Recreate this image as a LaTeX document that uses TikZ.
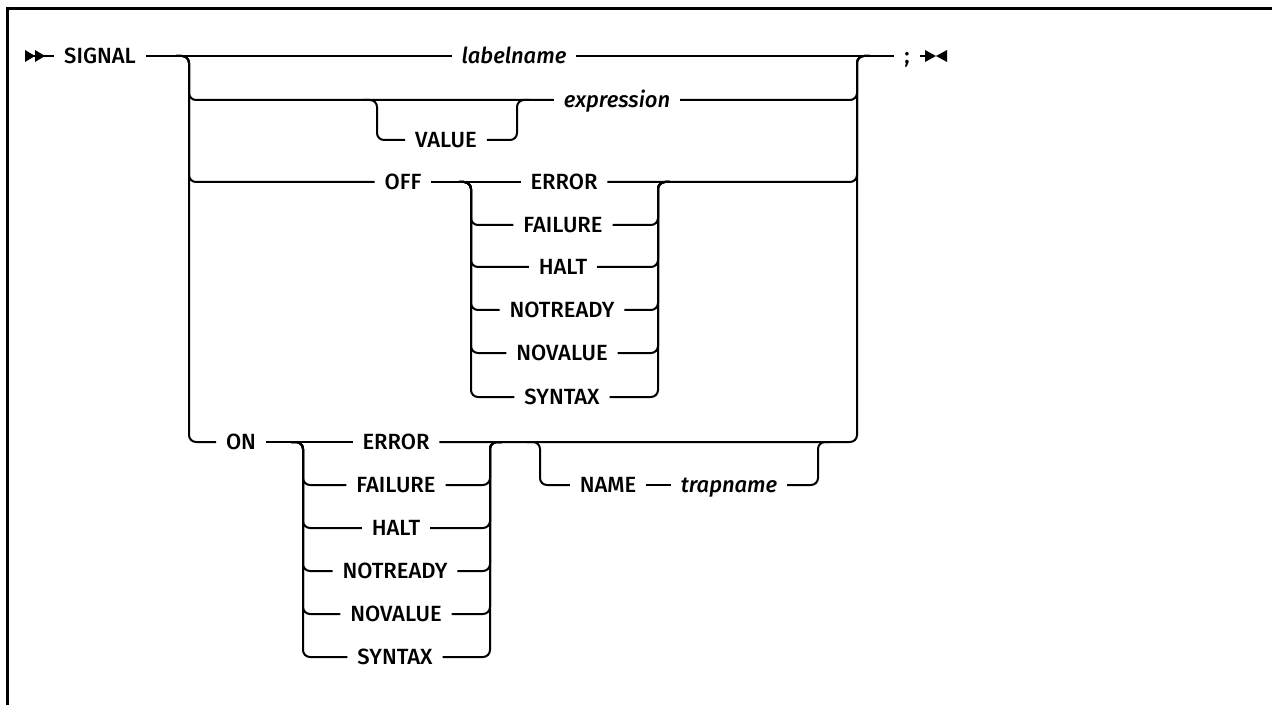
\documentclass[tikz,border=0pt]{standalone}
\usepackage{fontspec}
\setmainfont{Liberation Sans}
\newfontfamily\railfont{Fira Sans Medium}[ItalicFont={Fira Sans Medium Italic}]
\usepackage{tikz}

\begin{document}
\begin{tikzpicture}[x=0.5pt,y=-0.5pt,
	rail/.style={line width=1pt,rounded corners=3.5pt},
	kw/.style={inner xsep=5pt,inner ysep=2pt,outer sep=0pt,text height=7.4pt,text depth=0pt,font=\railfont\fontsize{11}{13}\selectfont},
	var/.style={kw,font=\railfont\fontsize{11}{13}\selectfont\itshape}]
	\useasboundingbox (0,0) rectangle (1272,705);
	\draw[line width=1.5pt] (7.5,705) -- (7.5,8.5) -- (1272,8.5);

	\node[kw] (signal) at (100,56) {SIGNAL};
	\node[var] (labelname) at (514,56) {labelname};
	\node[var] (expression) at (617,100) {expression};
	\node[kw] (value) at (446,140) {VALUE};
	\node[kw] (semi) at (907,56) {;};

	\node[kw] (off) at (403,182) {OFF};
	\node[kw] (offerror) at (564,182) {ERROR};
	\node[kw] (offfailure) at (563,225) {FAILURE};
	\node[kw] (offhalt) at (563,267) {HALT};
	\node[kw] (offnotready) at (562,310) {NOTREADY};
	\node[kw] (offnovalue) at (562,353) {NOVALUE};
	\node[kw] (offsyntax) at (562,397) {SYNTAX};

	\node[kw] (on) at (241,442) {ON};
	\node[kw] (onerror) at (396,442) {ERROR};
	\node[kw] (onfailure) at (396,485) {FAILURE};
	\node[kw] (onhalt) at (396,528) {HALT};
	\node[kw] (onnotready) at (395,571) {NOTREADY};
	\node[kw] (onnovalue) at (396,614) {NOVALUE};
	\node[kw] (onsyntax) at (395,657) {SYNTAX};
	\node[kw] (name) at (608,485) {NAME};
	\node[var] (trapname) at (729,485) {trapname};

	% start and end marks
	\coordinate (begin) at (25,56);
	\coordinate (stop) at (925,56);
	\fill (25,50) -- (35,56) -- (25,62) -- cycle;
	\fill (35,50) -- (45,56) -- (35,62) -- cycle;
	\fill (925,50) -- (936,56) -- (925,62) -- cycle;
	\fill (947,50) -- (936,56) -- (947,62) -- cycle;
	\draw[rail] (begin) -- (signal.west);
	\draw[rail] (signal.east) -- (labelname.west);
	\draw[rail] (labelname.east) -- (semi.west);
	\draw[rail] (semi.east) -- (stop);

	% main choice
	\draw[rail] (176,56) -| (189,100) -- (expression.west);
	\draw[rail] (176,56) -| (189,182) -- (off.west);
	\draw[rail] (176,56) -| (189,442) -- (on.west);
	\draw[rail] (expression.east) -| (857,56) -- (870,56);
	\draw[rail] (offerror.east) -| (857,56) -- (870,56);
	\draw[rail] (onerror.east) -| (857,56) -- (870,56);

	% VALUE
	\draw[rail] (363,100) -| (377,140) -- (value.west);
	\draw[rail] (value.east) -| (517,100) -- (529,100);

	% OFF
	\draw[rail] (off.east) -- (offerror.west);
	\foreach \w/\y in {failure/225,halt/267,notready/310,novalue/353,syntax/397}{
		\draw[rail] (459,182) -| (471,\y) -- (off\w.west);
		\draw[rail] (off\w.east) -| (658,182) -- (670,182);
	}

	% ON
	\draw[rail] (on.east) -- (onerror.west);
	\foreach \w/\y in {failure/485,halt/528,notready/571,novalue/614,syntax/657}{
		\draw[rail] (291,442) -| (303,\y) -- (on\w.west);
		\draw[rail] (on\w.east) -| (490,442) -- (502,442);
	}

	% NAME
	\draw[rail] (527,442) -| (540,485) -- (name.west);
	\draw[rail] (name.east) -- (trapname.west);
	\draw[rail] (trapname.east) -| (818,442) -- (830,442);
\end{tikzpicture}
\end{document}
